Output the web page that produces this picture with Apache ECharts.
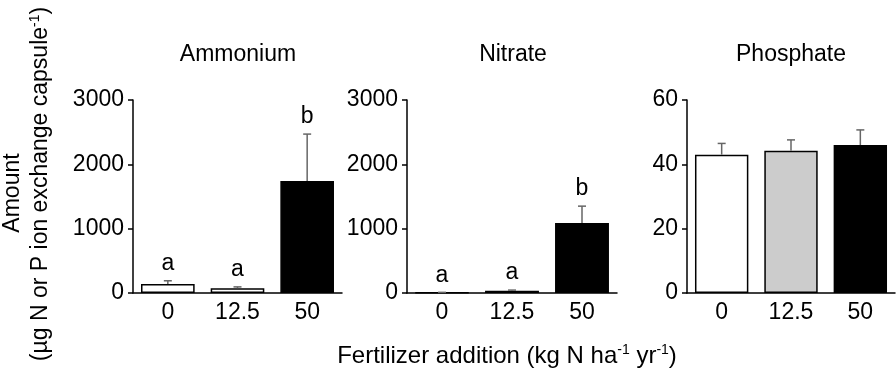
<!DOCTYPE html>
<html>
<head>
<meta charset="utf-8">
<script src="https://cdn.jsdelivr.net/npm/echarts@6/dist/echarts.min.js"></script>
<style>
  html, body { margin: 0; padding: 0; background: #fff; }
  #chart { width: 896px; height: 379px; }
</style>
</head>
<body>
<div id="chart"></div>
<script>
// data
const categories = ['0', '12.5', '50']
const panelTitles = ['Ammonium', 'Nitrate', 'Phosphate']

const ammoniumMean = [140, 75, 1740]
const ammoniumSE = [50, 20, 730]
const ammoniumLetters = ['a', 'a', 'b']

const nitrateMean = [6, 35, 1090]
const nitrateSE = [4, 10, 260]
const nitrateLetters = ['a', 'a', 'b']

const phosphateMean = [43, 44.2, 46]
const phosphateSE = [3.5, 3.4, 4.7]
const phosphateLetters = ['', '', '']

const yMax = [3000, 3000, 60]
const yStep = [1000, 1000, 20]

const barColors = [
  ['#ffffff', '#ffffff', '#000000'],
  ['#ffffff', '#ffffff', '#000000'],
  ['#ffffff', '#cccccc', '#000000']
]

const FONT = 'Liberation Sans, Arial, sans-serif'

// 面板位置
const grids = [
  { left: 133, width: 209, top: 100, height: 193 },
  { left: 407, width: 210, top: 100, height: 193 },
  { left: 687, width: 208, top: 100, height: 193 }
]

const means = [ammoniumMean, nitrateMean, phosphateMean]
const ses = [ammoniumSE, nitrateSE, phosphateSE]
const letters = [ammoniumLetters, nitrateLetters, phosphateLetters]

const chart = echarts.init(document.getElementById('chart'))

const barSeries = (idx) => ({
  type: 'bar',
  xAxisIndex: idx,
  yAxisIndex: idx,
  barWidth: '77%',
  data: means[idx].map((v, i) => ({
    value: v,
    itemStyle: { color: barColors[idx][i], borderColor: '#000', borderWidth: 1.5 }
  })),
  silent: true
})

const errorSeries = (idx) => ({
  type: 'custom',
  xAxisIndex: idx,
  yAxisIndex: idx,
  silent: true,
  z: 3,
  data: means[idx].map((v, i) => [i, v, v + ses[idx][i]]),
  renderItem: (params, api) => {
    const base = api.coord([api.value(0), api.value(1)])
    const top = api.coord([api.value(0), api.value(2)])
    const stroke = { stroke: '#666', lineWidth: 1.5 }
    const children = [
      { type: 'line', shape: { x1: top[0], y1: base[1], x2: top[0], y2: top[1] }, style: stroke },
      { type: 'line', shape: { x1: top[0] - 4, y1: top[1], x2: top[0] + 4, y2: top[1] }, style: stroke }
    ]
    const letter = letters[idx][params.dataIndex]
    if (letter) {
      children.push({
        type: 'text',
        x: top[0],
        y: top[1] - 17,
        style: { text: letter, fill: '#000', font: '23px ' + FONT, align: 'center', verticalAlign: 'middle' }
      })
    }
    return { type: 'group', children }
  }
})

const option = {
  animation: false,
  textStyle: { fontFamily: FONT },
  grid: grids,
  xAxis: grids.map((g, i) => ({
    type: 'category',
    gridIndex: i,
    data: categories,
    axisLine: { lineStyle: { color: '#000', width: 1.5 } },
    axisTick: { show: false },
    axisLabel: { color: '#000', fontSize: 23, margin: 8, fontFamily: FONT }
  })),
  yAxis: grids.map((g, i) => ({
    type: 'value',
    gridIndex: i,
    min: 0,
    max: yMax[i],
    interval: yStep[i],
    axisLine: { show: true, lineStyle: { color: '#000', width: 1.5 } },
    axisTick: { show: true, length: 5, lineStyle: { color: '#000', width: 1.5 } },
    splitLine: { show: false },
    axisLabel: { color: '#000', fontSize: 23, margin: 9, fontFamily: FONT, formatter: v => String(v) }
  })),
  series: [0, 1, 2].flatMap(i => [barSeries(i), errorSeries(i)]),
  graphic: [
    ...panelTitles.map((t, i) => ({
      type: 'text',
      x: [238, 513, 791][i],
      y: 55,
      style: { text: t, fill: '#000', font: '23px ' + FONT, align: 'center', verticalAlign: 'middle' }
    })),
    {
      type: 'text',
      x: 507,
      y: 356,
      style: {
        text: 'Fertilizer addition (kg N ha{sup|-1} yr{sup|-1})',
        fill: '#000',
        font: '24px ' + FONT,
        align: 'center',
        verticalAlign: 'middle',
        rich: { sup: { fontSize: 14, verticalAlign: 'top', padding: [0, 0, 12, 0], fontFamily: FONT } }
      }
    },
    {
      type: 'text',
      x: 13,
      y: 193,
      rotation: Math.PI / 2,
      style: { text: 'Amount', fill: '#000', font: '23px ' + FONT, align: 'center', verticalAlign: 'middle' }
    },
    {
      type: 'text',
      x: 41,
      y: 184,
      rotation: Math.PI / 2,
      style: {
        text: '(µg N or P ion exchange capsule{sup|-1})',
        fill: '#000',
        font: '23px ' + FONT,
        align: 'center',
        verticalAlign: 'middle',
        rich: { sup: { fontSize: 14, verticalAlign: 'top', padding: [0, 0, 11, 0], fontFamily: FONT } }
      }
    }
  ]
}

chart.setOption(option)
</script>
</body>
</html>
